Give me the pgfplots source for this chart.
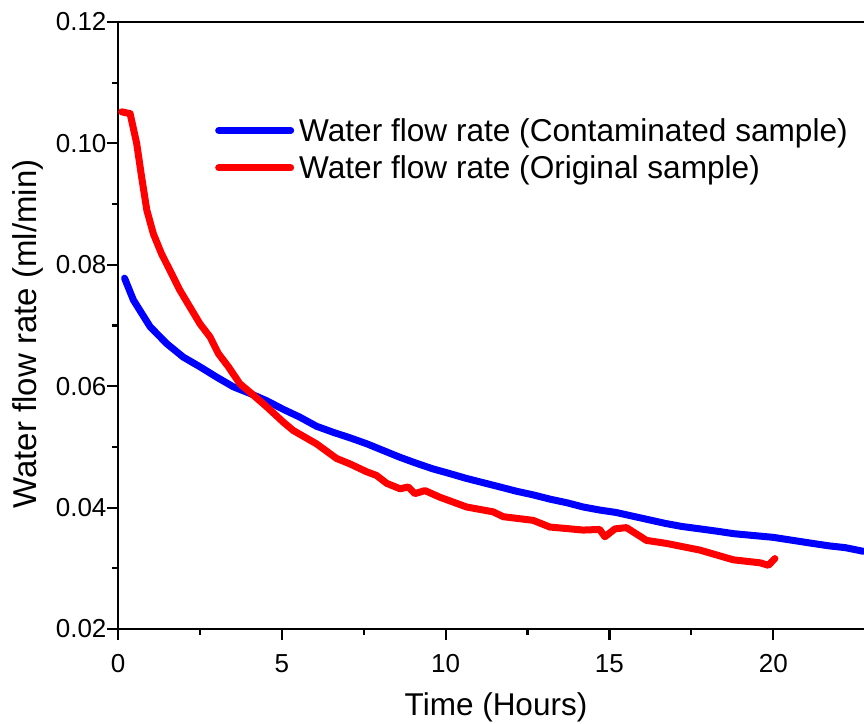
\documentclass[border=0pt]{standalone}
\usepackage{pgfplots}
\pgfplotsset{compat=1.18}
\usepackage{fontspec}
\setmainfont{Liberation Sans}
\definecolor{pblue}{RGB}{0,0,255}
\definecolor{pred}{RGB}{255,0,0}
\begin{document}
\begin{tikzpicture}
\path[use as bounding box] (-118pt,-94pt) rectangle (746pt,629pt);
\begin{axis}[
  scale only axis, width=746pt, height=607pt,
  at={(0pt,0pt)}, anchor=south west,
  xmin=0, xmax=22.77, ymin=0.02, ymax=0.12,
  axis x line*=box, axis y line*=left,
  axis line style={line width=2.2pt, -},
  xtick={0,5,10,15,20},
  ytick={0.02,0.04,0.06,0.08,0.10,0.12},
  minor x tick num=1, minor y tick num=1,
  tick align=outside, xtick pos=left, ytick pos=left,
  major tick length=11pt, minor tick length=6pt,
  every tick/.style={line width=2.2pt, black},
  /pgf/number format/assume math mode=true,
  tick label style={font=\fontsize{26}{30}\selectfont},
  xticklabel style={yshift=-11pt},
  yticklabel style={xshift=3pt, /pgf/number format/.cd, fixed, fixed zerofill, precision=2},
  every axis y label/.style={at={(axis description cs:-0.1213,0.486)}, rotate=90, anchor=center, font=\fontsize{33}{38}\selectfont},
  every axis x label/.style={at={(axis description cs:0.5067,-0.1285)}, anchor=center, font=\fontsize{31.5}{36}\selectfont},
  xlabel={Time (Hours)},
  ylabel={Water flow rate (ml/min)},
  legend cell align=left,
  legend style={draw=none, fill=none, at={(axis description cs:0.13,0.845)}, anchor=north west,
    font=\fontsize{31.6}{37}\selectfont, inner sep=0pt, row sep=9pt,
    nodes={inner xsep=5pt}},
  legend image code/.code={\draw[#1, line width=7pt, line cap=round] (0pt,0pt) -- (72pt,0pt);},
]
\addplot[pblue, line width=7pt, line join=round, line cap=round] coordinates {
(0.2,0.0778) (0.47,0.0742) (0.98,0.0698) (1.49,0.0670) (1.99,0.0648) (2.50,0.0632)
(3.01,0.0615) (3.52,0.0599) (4.03,0.0588) (4.54,0.0576) (5.04,0.0562) (5.55,0.0549)
(6.06,0.0534) (6.57,0.0524) (7.08,0.0515) (7.6,0.0505) (8.10,0.0494) (8.6,0.0483)
(9.11,0.0473) (9.6,0.0464) (10.13,0.0456) (10.64,0.0448) (11.15,0.0441) (11.66,0.0434)
(12.16,0.0427) (12.67,0.0421) (13.18,0.0414) (13.7,0.0408) (14.2,0.0401) (14.7,0.0396)
(15.2,0.0392) (15.7,0.0386) (16.2,0.0380) (16.7,0.0374) (17.2,0.0369) (17.76,0.0365)
(18.3,0.0361) (18.8,0.0357) (19.4,0.0354) (20.0,0.0351) (20.6,0.0346) (21.2,0.0341)
(21.7,0.0337) (22.2,0.0334) (22.75,0.0328)
};
\addlegendentry{Water flow rate (Contaminated sample)}
\addplot[pred, line width=7pt, line join=round, line cap=round] coordinates {
(0.11,0.1052) (0.37,0.1049) (0.57,0.1000) (0.72,0.0945) (0.88,0.0890) (1.08,0.0851)
(1.33,0.0818) (1.64,0.0785) (1.89,0.0758) (2.20,0.0730) (2.50,0.0703) (2.81,0.0681)
(3.06,0.0654) (3.37,0.0632) (3.72,0.0604) (4.03,0.0590) (4.54,0.0566) (5.04,0.0541)
(5.35,0.0527) (6.06,0.0505) (6.67,0.0481) (7.08,0.0472) (7.59,0.0459) (7.89,0.0453)
(8.20,0.0440) (8.61,0.0431) (8.86,0.0434) (9.06,0.0423) (9.37,0.0428) (9.83,0.0417)
(10.64,0.0401) (11.45,0.0393) (11.76,0.0385) (12.67,0.0379) (13.18,0.0368) (14.2,0.0363)
(14.7,0.0364) (14.86,0.0352) (15.17,0.0365) (15.52,0.0367) (16.13,0.0346) (16.74,0.0341)
(17.76,0.0330) (18.78,0.0314) (19.6,0.0309) (19.85,0.0305) (20.05,0.0316)
};
\addlegendentry{Water flow rate (Original sample)}
\end{axis}
\end{tikzpicture}
\end{document}
